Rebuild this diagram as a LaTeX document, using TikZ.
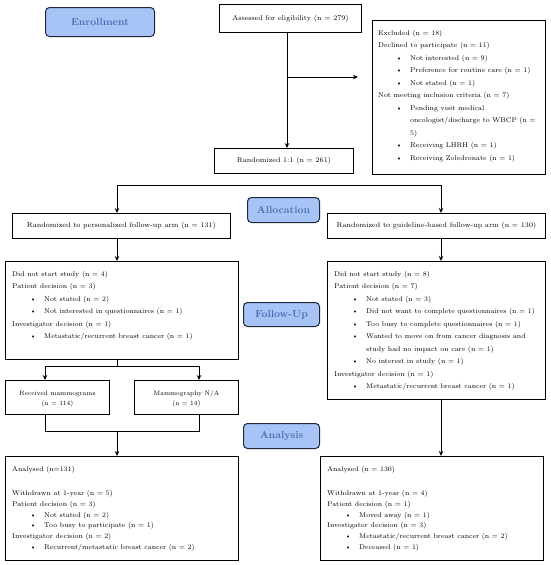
\documentclass[tikz,border=0pt]{standalone}
\usepackage{fontspec}
\usetikzlibrary{arrows.meta}
\definecolor{lblfill}{RGB}{168,196,246}
\definecolor{lbltext}{RGB}{74,112,178}
\definecolor{lbldraw}{RGB}{30,40,60}
\newcommand{\bl}[1]{\hspace*{18pt}\makebox[14pt][l]{\textbullet}#1}
\newcommand{\cl}[1]{\hspace*{32pt}#1}
\begin{document}
\begin{tikzpicture}[x=1pt,y=-1pt,
  box/.style={draw=black, line width=0.9pt, inner sep=0pt, anchor=north west, align=center, font=\fontsize{7.1}{10}\selectfont},
  lbl/.style={draw=lbldraw, line width=1pt, rounded corners=4pt, fill=lblfill, text=lbltext, font=\fontsize{10.3}{12}\selectfont\bfseries, anchor=north west, inner sep=0pt},
  txt/.style={anchor=north west, align=left, inner sep=0pt, font=\fontsize{6.9}{12.5}\selectfont},
  txts/.style={txt, font=\fontsize{6.9}{10.9}\selectfont},
  arr/.style={line width=0.9pt, -{Stealth[length=5pt,width=4.5pt]}},
  arrtwo/.style={line width=0.9pt, {Stealth[length=5pt,width=4.5pt]}-{Stealth[length=5pt,width=4.5pt]}},
  ln/.style={line width=0.9pt}]
\fill[white] (0,0) rectangle (550,565);
\useasboundingbox (0,0) rectangle (550,565);

% stage labels
\node[lbl, minimum width=109pt, minimum height=29pt] (enr) at (45,7) {Enrollment};
\node[lbl, minimum width=72pt, minimum height=25pt] (alloc) at (247,197) {Allocation};
\node[lbl, minimum width=76pt, minimum height=24pt] (fup) at (243,302) {Follow-Up};
\node[lbl, minimum width=76pt, minimum height=25pt] (anal) at (243,423) {Analysis};

% enrollment
\node[box, minimum width=142pt, minimum height=28pt] (assess) at (219,4) {Assessed for eligibility (n = 279)};
\node[box, minimum width=173pt, minimum height=154pt] (excl) at (372,20) {};
\node[txt] (excltxt) at (378,30) {Excluded (n = 18)\\
Declined to participate (n = 11)\\
\bl{Not interested (n = 9)}\\
\bl{Preference for routine care (n = 1)}\\
\bl{Not stated (n = 1)}\\
Not meeting inclusion criteria (n = 7)\\
\bl{Pending visit medical}\\
\cl{oncologist/discharge to WBCP (n =}\\
\cl{5)}\\
\bl{Receiving LHRH (n = 1)}\\
\bl{Receiving Zoledronate (n = 1)}};
\node[box, minimum width=139pt, minimum height=25pt] (rand) at (214,148) {Randomized 1:1 (n = 261)};

% allocation
\node[box, minimum width=218pt, minimum height=25pt] (armL) at (12,213) {Randomized to personalized follow-up arm (n = 131)};
\node[box, minimum width=218pt, minimum height=25pt] (armR) at (327,213) {Randomized to guideline-based follow-up arm (n = 130)};

% follow-up
\node[box, minimum width=233pt, minimum height=98pt] (fuL) at (5,261) {};
\node[txt] (fuLtxt) at (12,271) {Did not start study (n = 4)\\
Patient decision (n = 3)\\
\bl{Not stated (n = 2)}\\
\bl{Not interested in questionnaires (n = 1)}\\
Investigator decision (n = 1)\\
\bl{Metastatic/recurrent breast cancer (n = 1)}};
\node[box, minimum width=218pt, minimum height=138pt] (fuR) at (327,261) {};
\node[txt] (fuRtxt) at (334,271) {Did not start study (n = 8)\\
Patient decision (n = 7)\\
\bl{Not stated (n = 3)}\\
\bl{Did not want to complete questionnaires (n = 1)}\\
\bl{Too busy to complete questionnaires (n = 1)}\\
\bl{Wanted to move on from cancer diagnosis and}\\
\cl{study had no impact on care (n = 1)}\\
\bl{No interest in study (n = 1)}\\
Investigator decision (n = 1)\\
\bl{Metastatic/recurrent breast cancer (n = 1)}};

\node[box, minimum width=104pt, minimum height=34pt, font=\fontsize{6.5}{10}\selectfont] (rec) at (5,380) {\mbox{}\\[-3pt]Received mammograms\\(n = 114)};
\node[box, minimum width=104pt, minimum height=34pt, font=\fontsize{6.5}{10}\selectfont] (mna) at (134,380) {\mbox{}\\[-3pt]Mammography N/A\\(n = 14)};

% analysis
\node[box, minimum width=233pt, minimum height=104pt] (anL) at (5,456) {};
\node[txts] (anLtxt) at (12,466) {Analysed (n=131)\\[13pt]
Withdrawn at 1-year (n = 5)\\
Patient decision (n = 3)\\
\bl{Not stated (n = 2)}\\
\bl{Too busy to participate (n = 1)}\\
Investigator decision (n = 2)\\
\bl{Recurrent/metastatic breast cancer (n = 2)}};
\node[box, minimum width=223pt, minimum height=104pt] (anR) at (320,456) {};
\node[txts] (anRtxt) at (327,466) {Analysed (n = 130)\\[13pt]
Withdrawn at 1-year (n = 4)\\
Patient decision (n = 1)\\
\bl{Moved away (n = 1)}\\
Investigator decision (n = 3)\\
\bl{Metastatic/recurrent breast cancer (n = 2)}\\
\bl{Deceased (n = 1)}};

% connectors
\coordinate (vx) at (287,0);
\draw[arr] (assess.south -| vx) -- (rand.north -| vx);
\coordinate (br) at (287,77);
\draw[arr, shorten >=14pt] (br) -- (br -| excl.west);
\coordinate (sl) at (117,185);
\coordinate (sr) at (441,185);
\draw[arrtwo] (armL.north -| sl) -- (sl) -- (sr) -- (armR.north -| sr);
\draw[arr] (armL.south -| sl) -- (fuL.north -| sl);
\draw[arr] (armR.south -| sr) -- (fuR.north -| sr);
\coordinate (m1) at (117,366);
\coordinate (ml) at (45,366);
\coordinate (mr) at (199,366);
\draw[ln] (fuL.south -| m1) -- (m1);
\draw[arrtwo] (rec.north -| ml) -- (ml) -- (mr) -- (mna.north -| mr);
\coordinate (jl) at (45,431);
\coordinate (jr) at (199,431);
\coordinate (jc) at (117,431);
\draw[ln] (rec.south -| jl) -- (jl) -- (jr) -- (mna.south -| jr);
\draw[arr] (jc) -- (anL.north -| jc);
\draw[arr] (fuR.south -| sr) -- (anR.north -| sr);
\end{tikzpicture}
\end{document}
